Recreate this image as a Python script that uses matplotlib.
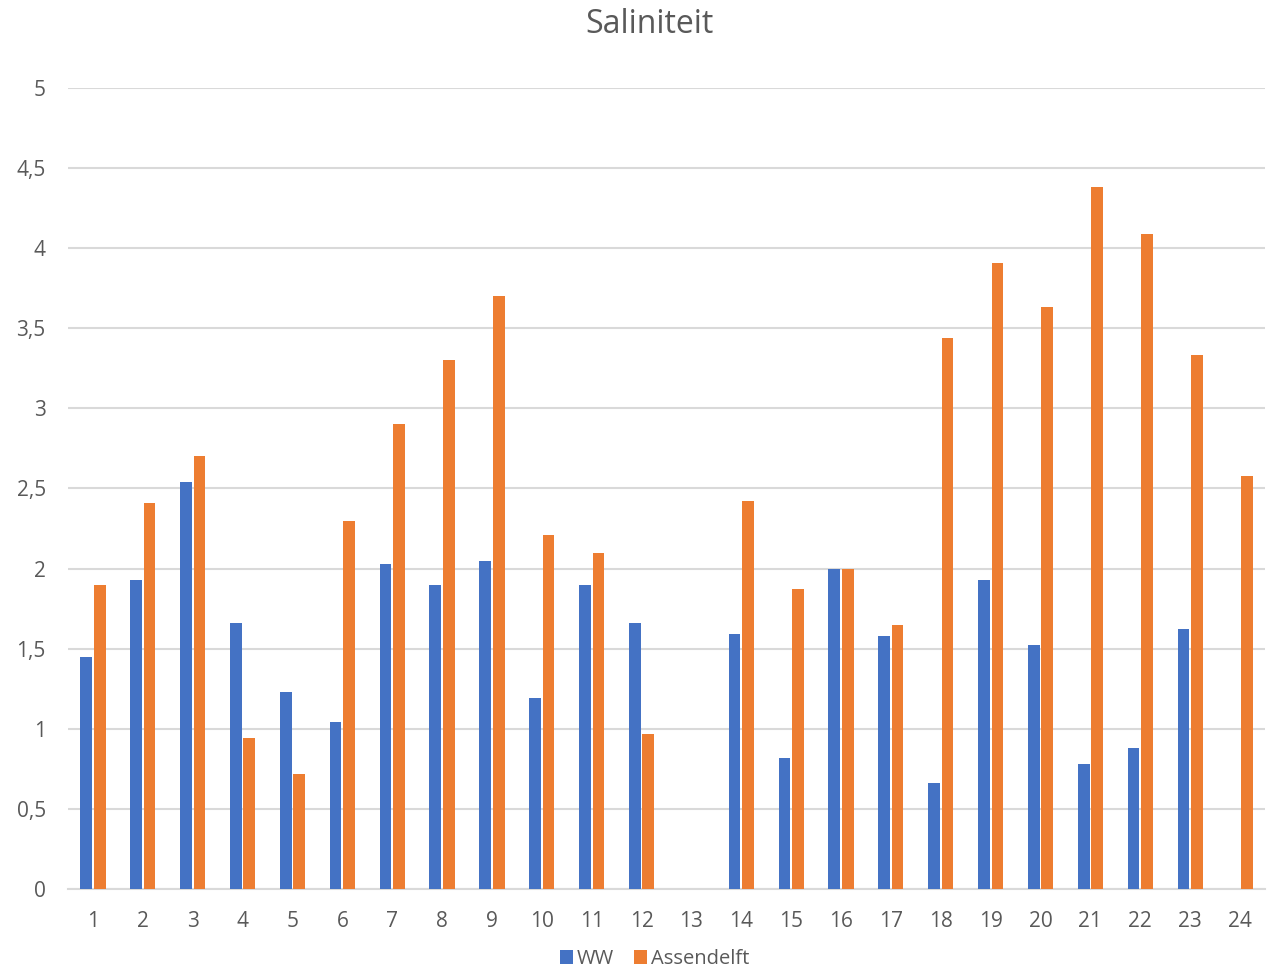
import numpy as np
import matplotlib.pyplot as plt

# data (Dutch decimal comma on the axis)
categories = list(range(1, 25))
ww = [1.45, 1.93, 2.54, 1.66, 1.23, 1.04, 2.03, 1.90, 2.05, 1.19, 1.90, 1.66,
      np.nan, 1.59, 0.82, 2.00, 1.58, 0.66, 1.93, 1.52, 0.78, 0.88, 1.62, np.nan]
assendelft = [1.90, 2.41, 2.70, 0.94, 0.72, 2.30, 2.90, 3.30, 3.70, 2.21, 2.10, 0.97,
              np.nan, 2.42, 1.87, 2.00, 1.65, 3.44, 3.91, 3.63, 4.38, 4.09, 3.33, 2.58]
yticks = [0, 0.5, 1, 1.5, 2, 2.5, 3, 3.5, 4, 4.5, 5]
ytick_labels = ['0', '0,5', '1', '1,5', '2', '2,5', '3', '3,5', '4', '4,5', '5']

plt.rcParams['font.family'] = ['Open Sans', 'DejaVu Sans']
grey = '#595959'

fig = plt.figure(figsize=(12.69, 9.71), dpi=100)
ax = fig.add_axes([0.0536, 0.0845, 0.9432, 0.8249])

x = np.array(categories)
w = 0.235
ax.bar(x - 0.135, ww, width=w, color='#4472C4', label='WW', zorder=3)
ax.bar(x + 0.135, assendelft, width=w, color='#ED7D31', label='Assendelft', zorder=3)

ax.set_xlim(0.5, 24.5)
ax.set_ylim(0, 5)
ax.set_xticks(x)
ax.set_xticklabels([str(c) for c in categories])
ax.set_yticks(yticks)
ax.set_yticklabels(ytick_labels)
ax.tick_params(axis='both', length=0, labelsize=15, labelcolor=grey)
ax.tick_params(axis='x', pad=16)
ax.tick_params(axis='y', pad=16)
ax.grid(axis='y', color='#d9d9d9', linewidth=1.5, zorder=0)
for s in ['top', 'right', 'left']:
    ax.spines[s].set_visible(False)
ax.spines['bottom'].set_color('#d9d9d9')
ax.spines['bottom'].set_linewidth(1.5)

fig.text(0.512, 0.975, 'Saliniteit', ha='center', va='center', fontsize=23, color=grey)

fig.legend(loc='center', bbox_to_anchor=(0.516, 0.0125), ncol=2, frameon=False,
           fontsize=14.5, labelcolor=grey, handlelength=0.65, handleheight=0.65,
           handletextpad=0.2, columnspacing=1.0, borderpad=0.0)

fig.savefig('out.png', dpi=100)
